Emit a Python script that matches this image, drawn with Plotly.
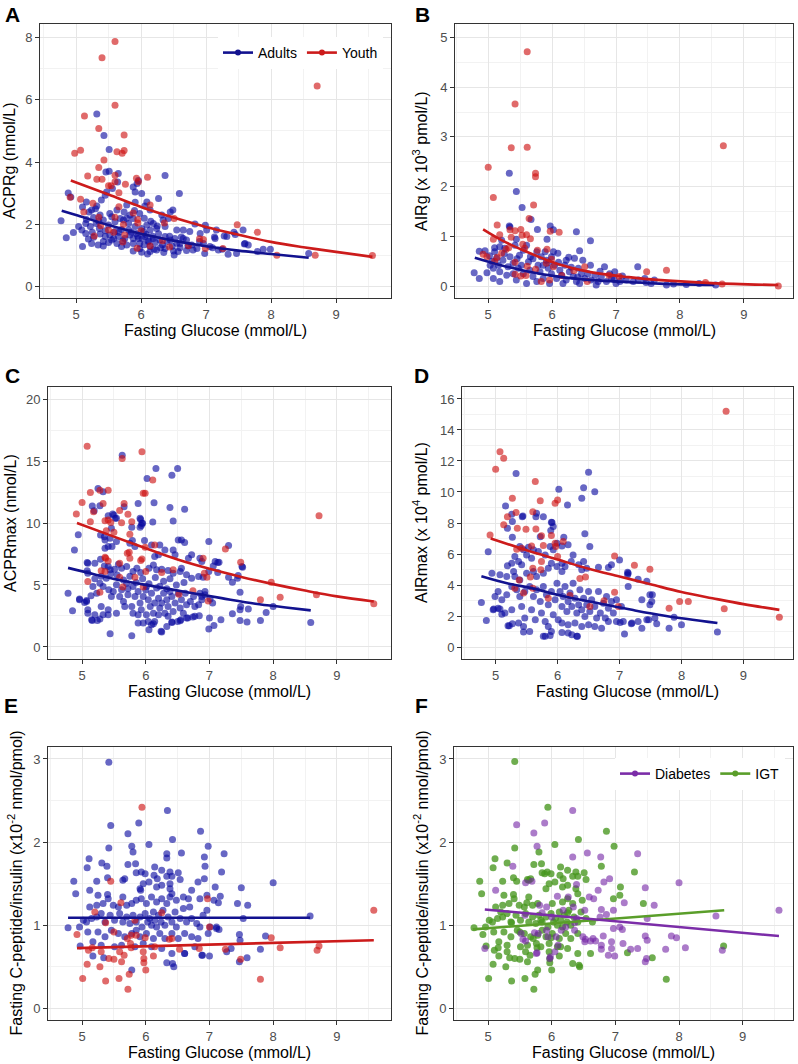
import plotly.graph_objects as go

FONT = "Liberation Sans, Arial, sans-serif"
W, H = 798, 1064

# ---- panel A: ACPRg ----
a_adults = [(5.43,4.85),(5.51,4.40),(5.32,5.54),(6.37,3.57),(6.59,2.99),(4.88,3.01),(4.77,2.12),(4.85,1.57),(4.96,1.74),(5.10,1.29),(4.92,2.88),
    (5.10,2.56),(5.16,2.72),(5.24,2.46),(5.32,2.59),(5.39,2.78),(5.45,2.94),(5.47,3.04),(5.56,3.15),(5.64,3.36),(5.46,3.68),(5.51,3.71),(5.65,3.63),
    (5.88,3.20),(5.91,3.04),(6.01,2.99),(5.96,3.41),(5.94,3.31),(6.09,2.72),(6.27,2.83),(6.06,2.59),(5.91,2.71),(5.78,2.62),(5.74,2.40),(5.63,2.46),
    (5.52,2.35),(5.37,2.30),(5.27,2.22),(5.16,2.16),(5.04,1.93),(5.09,1.82),(5.15,2.03),(5.22,1.93),(5.31,2.03),(5.36,1.87),(5.42,2.14),(5.50,1.98),
    (5.60,2.09),(5.68,2.19),(5.83,2.30),(5.88,2.19),(5.98,2.35),(6.14,2.46),(6.32,2.30),(6.45,2.40),(6.49,2.46),(6.42,2.19),(6.34,2.14),(6.19,2.03),
    (6.09,1.98),(6.01,1.87),(5.91,1.93),(5.81,1.82),(5.70,1.84),(5.60,1.77),(5.52,1.66),(5.45,1.61),(5.37,1.69),(5.27,1.59),(5.19,1.53),(5.15,1.71),
    (5.24,1.39),(5.34,1.34),(5.42,1.45),(5.55,1.50),(5.65,1.61),(5.75,1.55),(5.83,1.66),(5.93,1.71),(6.04,1.77),(6.14,1.82),(6.24,1.87),(6.37,1.93),
    (6.55,1.82),(6.65,1.82),(6.83,2.01),(6.75,1.77),(6.91,1.71),(7.01,1.82),(7.16,1.82),(7.32,1.61),(7.45,1.68),(7.57,1.82),(7.60,1.39),(7.65,1.34),
    (5.88,1.39),(5.98,1.39),(6.11,1.45),(6.19,1.55),(6.29,1.50),(6.37,1.61),(6.45,1.50),(6.52,1.55),(6.60,1.39),(6.70,1.50),(6.78,1.34),(6.86,1.23),
    (6.96,1.39),(7.06,1.29),(7.14,1.55),(7.19,1.18),(7.34,1.04),(7.47,1.07),(5.88,1.15),(6.01,1.11),(6.14,1.13),(6.24,1.18),(6.37,1.23),(6.51,1.02),
    (6.57,1.13),(6.70,1.16),(6.98,1.07),(6.14,1.29),(5.78,1.34),(5.70,1.29),(5.63,1.39),(5.42,1.31),(6.06,1.61),(5.96,1.55),(5.81,2.03),(5.73,2.14),
    (7.59,1.37),(7.79,1.13),(7.88,1.20),(7.99,1.20),(8.58,1.07),(6.99,1.97),(7.13,1.60),(7.28,1.63),(7.43,1.75),
    (5.85,1.75),(5.95,1.62),(6.02,1.55),(6.08,1.68),(6.12,1.48),(6.18,1.62),(6.22,1.42),(6.27,1.70),(6.33,1.35),(6.40,1.45),(6.44,1.62),(6.48,1.30),
    (6.55,1.40),(6.60,1.25),(6.65,1.55),(6.72,1.32),(6.80,1.18),(5.72,1.48),(5.66,1.75),(5.58,1.55),(5.50,1.42),(5.45,1.80),(5.35,2.10),(5.25,1.75),
    (5.20,2.40),(5.30,2.50),(5.55,2.25),(5.78,2.20),(5.90,2.45),(6.05,2.20),(6.15,2.10),(6.25,1.95),(6.30,1.25),(6.20,1.20),(6.10,1.05),(5.98,1.22),
    (6.50,1.15),(6.62,1.60),(6.90,1.45),(7.10,1.25),(7.25,1.20),(6.35,1.10),(6.05,1.35),(5.88,1.55)]
a_youth = [(4.98,4.28),(5.07,4.38),(5.13,5.48),(5.40,7.35),(5.60,7.87),(5.60,5.82),(5.35,5.08),(5.74,4.87),(5.63,4.33),(5.71,4.28),(5.74,4.37),
    (5.43,4.07),(5.35,3.83),(5.18,3.55),(5.32,3.45),(5.40,3.45),(5.60,3.58),(5.60,3.37),(5.50,3.24),(5.54,3.24),(5.76,3.29),(5.66,3.02),(5.93,3.48),
    (5.96,3.37),(6.10,3.51),(4.91,2.87),(5.07,2.81),(5.12,2.40),(5.26,2.68),(5.35,2.23),(5.38,1.96),(5.50,1.82),(5.58,1.75),(5.60,2.23),(5.66,2.57),
    (5.73,2.00),(5.75,1.66),(5.88,2.37),(5.95,2.16),(5.95,2.05),(6.00,1.80),(6.14,1.31),(5.94,1.24),(5.72,1.44),(5.28,1.63),(6.33,1.48),(6.44,1.28),
    (6.51,2.19),(6.73,1.32),(6.90,1.54),(6.96,1.52),(6.99,1.23),(7.26,1.23),(7.48,1.99),(7.79,1.75),(8.09,1.01),(8.68,1.01),(8.71,6.44),(9.56,1.00),
    (6.14,2.62),(6.36,2.05)]
a_fit_adults = [(4.78,2.44),(5.0,2.30),(5.5,1.98),(6.0,1.70),(6.5,1.48),(7.0,1.30),(7.5,1.16),(8.0,1.05),(8.58,0.93)]
a_fit_youth = [(4.92,3.41),(5.5,2.96),(6.0,2.56),(6.5,2.22),(7.0,1.92),(7.5,1.67),(8.0,1.44),(8.5,1.27),(9.0,1.12),(9.56,0.96)]

# ---- panel B: AIRg ----
b_adults = [(5.33,2.27),(5.44,1.90),(5.53,1.58),(5.67,1.34),(5.77,1.14),(5.97,1.21),(6.02,1.13),(6.38,1.09),(6.60,0.91),(5.92,0.94),(6.43,0.71),
    (5.34,1.19),(6.82,0.39),(7.34,0.39),(4.78,0.27),(4.86,0.15),(4.98,0.27),(4.95,0.71),(5.10,0.77),(5.10,0.69),(5.18,0.79),(5.44,0.94),(5.21,0.92),
    (6.97,0.13),(7.00,0.05),(7.47,0.07),(7.79,0.02),(8.56,0.02),(5.33,1.21),(4.86,0.70),(5.26,0.76),(5.42,0.82),(5.60,0.82),(5.76,0.69),(5.89,0.69),
    (6.02,0.69),(6.09,0.66),(6.22,0.52),(6.35,0.56),(6.48,0.52),(6.26,0.58),(5.08,0.36),(5.08,0.15),(5.16,0.42),(5.18,0.29),(5.23,0.52),(5.31,0.39),
    (5.39,0.46),(5.39,0.25),(5.47,0.36),(5.52,0.42),(5.55,0.25),(5.63,0.49),(5.65,0.32),(5.70,0.19),(5.78,0.42),(5.81,0.29),(5.86,0.15),(5.91,0.52),
    (5.94,0.36),(5.99,0.25),(6.04,0.42),(6.07,0.15),(6.12,0.32),(6.15,0.22),(6.20,0.42),(6.22,0.12),(6.27,0.29),(6.33,0.19),(6.38,0.09),(6.41,0.36),
    (6.46,0.25),(6.51,0.15),(6.56,0.25),(6.61,0.12),(6.67,0.22),(6.72,0.09),(6.77,0.19),(6.85,0.09),(6.93,0.15),(6.98,0.29),(7.06,0.09),(7.16,0.12),
    (7.27,0.09),(7.45,0.15),(7.55,0.05),(7.60,0.12),(5.13,0.56),(5.34,0.59),(5.49,0.62),(5.66,0.59),(5.83,0.59),(5.99,0.59),(5.86,0.42),(5.60,0.05),
    (5.76,0.09),(5.96,0.05),(6.17,0.05),(6.43,0.05),(6.69,0.02),(5.18,0.09),(5.44,0.12),(5.03,0.42),(5.29,0.22),(7.90,0.04),(8.10,0.03),(8.30,0.05),
    (5.02,0.61),(5.06,0.50),(5.70,0.55),(5.55,0.72),(6.10,0.48),(6.30,0.38),(5.95,0.48),(6.60,0.42),(6.75,0.30),(5.45,0.55),(5.25,0.65),(6.90,0.25),
    (7.10,0.20),(7.35,0.12),(6.40,0.18)]
b_youth = [(5.61,4.71),(5.42,3.66),(5.36,2.78),(5.61,2.79),(5.00,2.39),(5.08,1.78),(5.74,2.27),(5.74,2.20),(5.71,1.63),(5.14,1.23),(5.51,1.14),
    (5.64,1.36),(5.42,1.11),(5.36,0.98),(5.53,1.02),(5.60,1.03),(5.66,0.95),(5.97,1.10),(6.11,1.08),(5.08,0.94),(5.18,1.03),(4.92,0.64),(5.28,0.74),
    (5.32,0.77),(5.77,0.72),(5.92,0.74),(5.99,0.54),(5.57,0.76),(5.74,0.34),(5.42,0.48),(6.02,0.39),(5.42,0.24),(5.51,0.20),(5.59,0.21),(5.83,0.09),
    (5.96,0.12),(6.51,0.39),(6.34,0.31),(6.15,0.21),(6.55,0.09),(6.89,0.22),(7.05,0.19),(7.48,0.29),(7.79,0.32),(8.40,0.07),(8.68,2.82),(8.66,0.04),
    (9.54,0.00),(5.10,0.50),(4.98,0.59),(5.21,0.66),(5.91,0.46),(5.34,1.13),(5.54,0.84),(5.14,0.58),(5.61,0.40)]
b_fit_adults = [(4.79,0.57),(5.2,0.42),(5.6,0.30),(6.1,0.19),(6.64,0.12),(7.2,0.08),(7.68,0.05),(8.54,0.02)]
b_fit_youth = [(4.92,1.14),(5.2,0.93),(5.6,0.69),(6.1,0.44),(6.6,0.28),(7.2,0.18),(7.7,0.12),(8.5,0.06),(9.54,0.02)]

# ---- panel C: ACPRmax ----
c_adults = [(5.63,15.47),(6.16,14.40),(6.50,14.40),(6.02,13.59),(6.41,13.86),(6.13,11.64),(5.88,11.58),(6.38,11.26),(6.61,11.10),(5.25,12.79),
    (5.33,12.52),(5.16,11.37),(5.66,11.31),(5.19,10.99),(5.48,10.72),(5.41,10.59),(5.52,10.38),(5.91,10.38),(5.94,9.97),(6.11,10.08),(6.43,10.16),
    (4.94,9.06),(4.88,7.83),(4.78,4.34),(4.85,2.92),(4.96,3.86),(5.08,6.81),(5.09,5.95),(5.07,3.67),(5.09,3.00),(5.16,2.14),(5.24,2.14),(5.28,2.25),
    (5.44,1.07),(5.78,0.91),(5.88,1.93),(6.05,1.39),(6.12,1.88),(6.25,1.21),(6.33,1.66),(6.41,2.01),(6.55,2.20),(6.66,2.33),(6.74,2.41),(6.84,2.52),
    (6.99,1.45),(7.07,1.74),(7.18,2.20),(7.00,2.33),(6.99,8.50),(7.30,8.18),(7.15,6.84),(7.36,5.23),(7.44,5.55),(7.52,6.43),(7.36,2.68),(7.48,4.42),
    (7.49,3.27),(7.48,3.00),(7.61,3.06),(7.48,2.14),(7.59,2.01),(7.80,2.14),(7.89,2.79),(8.00,3.27),(8.59,1.98),(7.05,3.54),(6.85,4.34),(6.88,4.08),
    (6.93,4.48),(5.28,11.39),(5.50,10.64),(5.54,10.38),(5.46,9.57),(5.92,10.29),(5.95,9.97),(5.29,9.03),(5.35,8.90),(5.36,8.63),(5.44,8.77),
    (5.36,7.96),(5.41,8.10),(5.47,8.10),(5.54,8.50),(5.78,9.65),(5.91,9.65),(5.93,9.80),(5.98,8.58),(5.79,8.58),(5.75,8.36),(5.83,8.10),(6.09,8.23),
    (6.22,8.23),(6.51,8.63),(6.56,8.63),(6.61,8.42),(6.72,7.43),(6.30,7.83),(6.14,7.29),(6.20,7.43),(6.43,7.83),(6.46,7.43),(6.67,7.16),(6.85,7.16),
    (6.88,6.89),(7.06,6.54),(7.09,6.89),(7.13,6.81),(6.99,6.09),(7.13,6.01),(7.30,5.63),(7.45,5.76),(7.51,6.49),(5.09,6.76),(5.08,6.14),(5.20,6.76),
    (5.29,7.08),(5.35,6.54),(5.41,6.49),(5.44,6.22),(5.51,6.27),(5.57,6.68),(5.62,6.35),(5.70,6.49),(5.80,6.09),(5.86,6.35),(5.92,6.01),(6.05,6.35),
    (6.12,6.62),(6.17,6.22),(6.25,6.27),(6.35,6.17),(6.43,5.95),(6.54,6.09),(6.56,6.35),(6.64,5.82),(6.72,5.55),(6.83,5.68),(6.90,5.63),
    (4.96,3.81),(5.04,3.59),(5.07,3.75),(5.14,4.13),(5.17,4.88),(5.23,4.34),(5.28,5.15),(5.33,4.88),(5.38,5.55),(5.42,4.61),(5.46,4.08),(5.49,4.48),
    (5.54,5.01),(5.59,4.08),(5.62,4.61),(5.65,3.67),(5.70,5.15),(5.72,4.21),(5.78,3.27),(5.80,4.88),(5.83,4.08),(5.88,4.48),(5.91,3.54),(5.93,3.00),
    (5.96,4.08),(6.01,4.88),(6.04,3.81),(6.07,3.27),(6.09,4.34),(6.12,2.73),(6.14,3.54),(6.17,4.75),(6.20,3.94),(6.22,3.14),(6.25,3.54),(6.28,4.34),
    (6.30,2.73),(6.33,3.81),(6.35,3.27),(6.38,4.48),(6.41,4.08),(6.43,2.87),(6.46,3.54),(6.51,4.34),(6.54,3.14),(6.56,3.81),(6.62,4.34),(6.64,3.40),
    (6.70,3.67),(6.75,4.08),(6.77,3.27),(6.83,3.40),(6.88,3.81),(6.93,4.21),(7.01,3.86),(6.77,2.47),(6.04,2.06),(5.80,2.73),(5.67,3.27),(5.54,2.73),
    (5.41,2.60),(5.41,3.00),(5.30,3.27),(5.20,2.60),(5.09,2.73),(5.15,2.20),(5.33,2.60),(5.88,2.60),(6.01,2.60),(6.20,2.60),(6.35,2.47),(6.50,2.06),
    (6.59,2.73),(6.14,2.06),(6.09,1.80),(5.96,1.93),(6.24,1.26),(6.41,1.98),(6.54,2.12),(6.64,2.33),
    (5.55,5.80),(5.65,5.40),(5.75,5.70),(5.85,5.20),(5.95,5.50),(6.05,5.10),(6.15,5.60),(6.28,5.30),(6.38,5.50),(6.48,5.00),(6.60,5.20),(5.45,5.90),
    (5.30,5.70),(5.20,5.50),(6.00,4.60),(6.22,4.90),(6.33,4.70),(5.72,4.70)]
c_youth = [(5.08,16.19),(5.63,15.20),(5.94,15.74),(6.11,13.46),(5.96,12.39),(5.99,12.39),(5.41,12.65),(5.13,12.47),(5.28,12.65),(4.91,10.72),
    (5.00,11.66),(5.18,10.91),(5.33,11.58),(5.66,11.58),(5.59,11.00),(5.72,10.70),(5.13,10.10),(5.36,10.19),(5.41,10.24),(5.45,10.05),(5.62,10.03),
    (5.78,10.10),(5.75,9.09),(5.50,9.25),(5.38,9.38),(5.41,6.94),(5.37,7.16),(5.74,7.64),(5.71,7.56),(5.75,7.16),(5.59,6.76),(5.99,8.04),(6.14,8.23),
    (5.94,7.10),(5.59,5.63),(5.83,5.63),(6.00,6.09),(6.25,6.00),(6.43,6.22),(5.09,5.28),(5.28,4.42),(5.96,4.83),(6.52,4.26),(6.74,4.53),(6.90,7.16),
    (6.92,5.95),(6.96,5.63),(6.98,3.70),(7.25,7.91),(7.49,6.84),(7.80,3.81),(7.97,5.23),(8.11,4.02),(8.68,4.21),(8.72,10.59),(9.58,3.49),(5.92,6.97),
    (5.36,7.24),(5.36,6.09),(5.30,6.14),(5.64,4.83)]
c_fit_adults = [(4.78,6.38),(5.2,5.85),(5.62,5.36),(6.14,4.88),(6.67,4.40),(7.19,3.94),(7.72,3.49),(8.2,3.19),(8.59,2.95)]
c_fit_youth = [(4.92,10.0),(5.5,8.9),(6.0,7.96),(6.5,7.05),(7.0,6.3),(7.5,5.65),(8.0,5.07),(8.5,4.55),(9.0,4.08),(9.58,3.67)]

# ---- panel D: AIRmax ----
d_adults = [(6.50,11.27),(5.33,11.20),(6.60,10.02),(6.42,10.28),(6.02,10.17),(6.39,9.59),(6.16,9.16),(5.16,9.10),(5.27,8.09),(5.66,8.63),
    (5.65,8.41),(5.77,8.41),(5.91,8.03),(5.93,7.77),(5.44,8.45),(5.19,7.66),(4.88,6.14),(4.94,4.76),(4.77,2.88),(4.85,1.72),(4.97,2.45),(5.07,2.45),
    (5.10,2.12),(5.22,1.37),(5.27,1.50),(5.45,0.97),(5.77,0.69),(5.88,0.75),(6.17,0.90),(6.32,0.69),(6.44,7.30),(6.52,6.48),(6.07,5.41),(6.82,5.13),
    (7.00,5.62),(7.13,4.66),(7.13,4.83),(7.30,4.38),(7.44,4.25),(7.36,3.05),(7.53,3.37),(7.49,2.73),(7.47,1.76),(7.57,1.87),(7.60,1.50),(7.80,1.22),
    (7.88,1.93),(8.00,1.44),(8.58,0.97),(7.36,1.22),(7.19,1.50),(7.08,0.84),(7.01,1.59),(5.26,8.56),(5.43,8.41),(5.90,8.05),(5.89,7.51),(5.72,7.12),
    (5.27,7.08),(6.10,7.08),(6.17,6.59),(6.07,6.52),(5.99,6.70),(5.93,6.27),(5.88,6.48),(5.80,5.94),(5.69,6.16),(5.61,6.27),(5.53,6.44),(5.45,6.27),
    (5.39,6.48),(5.50,5.94),(5.58,5.73),(5.31,5.84),(5.37,5.52),(5.42,5.30),(5.26,5.41),(5.29,4.87),(5.19,5.24),(5.07,4.66),(5.18,4.55),(5.31,4.55),
    (5.39,4.33),(5.50,4.76),(5.61,4.87),(5.66,4.55),(5.77,4.76),(5.85,5.09),(5.90,5.41),(5.99,5.19),(6.07,4.87),(6.12,5.19),(6.22,5.52),(6.25,5.94),
    (6.34,5.30),(6.39,4.98),(6.42,5.52),(6.47,5.09),(6.66,5.15),(6.87,5.30),(7.14,4.76),(7.49,3.37),(7.52,2.94),
    (5.04,3.58),(4.99,3.26),(5.10,3.05),(5.18,3.37),(5.26,3.91),(5.34,3.69),(5.39,3.26),(5.47,3.58),(5.55,3.91),(5.61,3.26),(5.66,3.69),(5.72,2.94),
    (5.77,3.91),(5.82,3.37),(5.85,2.73),(5.90,3.58),(5.96,3.05),(5.99,4.12),(6.04,3.58),(6.07,2.62),(6.09,3.26),(6.12,3.91),(6.15,2.30),(6.17,2.94),
    (6.20,3.48),(6.23,2.62),(6.25,4.12),(6.28,3.15),(6.31,2.19),(6.34,2.73),(6.36,3.69),(6.39,2.40),(6.42,3.15),(6.44,1.97),(6.47,2.73),(6.50,3.58),
    (6.52,2.30),(6.55,3.05),(6.60,2.62),(6.63,1.87),(6.66,3.58),(6.69,2.19),(6.74,2.83),(6.77,1.87),(6.79,3.26),(6.82,2.51),(6.87,2.94),(6.90,2.19),
    (6.95,3.05),(7.03,2.62),(7.06,1.65),(7.14,3.91),(7.20,1.55),(7.30,1.65),(7.44,1.76),(5.26,2.40),(5.15,2.19),(5.04,2.51),(4.96,2.40),(5.42,2.62),
    (5.58,2.40),(5.74,2.19),(5.93,2.08),(6.01,1.76),(5.80,1.65),(5.64,1.76),(5.47,1.87),(5.37,1.55),(5.20,1.37),(5.45,1.33),(5.85,1.33),(6.07,1.55),
    (6.17,1.44),(6.28,1.55),(6.39,1.33),(6.50,1.44),(6.60,1.33),(6.71,1.22),(6.82,1.65),(6.95,1.65),(5.55,1.01),(6.07,0.94),(5.80,0.69),(6.23,0.79),
    (6.31,0.69),(5.90,1.01)]
d_youth = [(8.72,15.21),(5.07,12.60),(5.13,12.17),(5.00,11.46),(5.64,10.67),(5.27,9.59),(5.33,8.67),(5.60,8.73),(5.72,9.44),(5.96,9.27),
    (6.00,9.49),(5.13,7.88),(5.19,8.41),(5.35,7.66),(5.49,7.60),(5.65,7.62),(5.74,7.17),(5.90,7.19),(6.09,6.80),(5.96,6.70),(4.91,7.23),(5.34,6.31),
    (5.42,6.37),(5.58,6.52),(5.77,6.55),(6.00,5.84),(5.74,5.52),(5.73,4.98),(5.60,5.09),(5.56,4.51),(5.38,4.33),(5.31,3.80),(5.45,3.48),(5.60,3.80),
    (5.85,3.15),(6.20,3.33),(6.36,4.42),(6.45,4.51),(6.92,5.88),(7.24,5.28),(7.49,5.02),(6.92,3.54),(6.75,2.98),(6.98,2.62),(6.52,2.62),(7.80,2.51),
    (7.97,2.94),(8.11,2.94),(8.69,2.47),(9.58,1.93),(5.97,6.48)]
d_fit_adults = [(4.77,4.57),(5.2,4.10),(5.58,3.80),(6.12,3.26),(6.66,2.83),(7.2,2.40),(7.73,2.02),(8.58,1.55)]
d_fit_youth = [(4.92,7.0),(5.5,6.25),(6.0,5.65),(6.5,5.05),(7.0,4.55),(7.5,4.05),(8.0,3.55),(8.5,3.15),(9.0,2.77),(9.58,2.40)]

# ---- panel E: C-peptide/insulin by age group ----
e_adults = [(5.42,2.96),(5.45,2.20),(5.89,2.23),(6.34,2.38),(5.72,2.10),(6.86,2.13),(6.42,2.03),(6.05,1.97),(5.78,1.95),(5.42,1.93),(6.98,1.95),
    (7.23,1.86),(6.56,1.87),(6.33,1.86),(6.33,1.81),(5.80,1.88),(6.92,1.82),(5.11,1.80),(5.08,1.69),(5.31,1.75),(5.39,1.71),(5.72,1.73),(5.84,1.74),
    (6.93,1.71),(7.19,1.64),(8.00,1.51),(4.87,1.53),(4.90,1.38),(5.12,1.42),(5.23,1.53),(5.40,1.57),(7.50,1.45),(7.44,1.26),(7.60,1.24),(7.53,1.08),
    (8.58,1.11),(4.78,0.97),(4.97,0.75),(7.47,0.89),(7.48,0.82),(7.88,0.87),(7.80,0.71),(7.34,0.72),(7.47,0.56),(7.59,0.61),(7.00,0.63),(6.89,0.64),
    (5.78,0.46),(6.42,0.54),(6.44,0.50),(6.33,0.55),(6.61,0.66),(5.17,0.63),(5.34,0.61),(7.17,1.35),(7.07,1.30),(7.15,0.95),(7.11,0.98),(7.27,0.68),
    (5.85,1.63),(5.93,1.64),(5.99,1.62),(6.14,1.70),(6.25,1.66),(6.13,1.60),(6.18,1.56),(6.33,1.59),(6.38,1.64),(6.41,1.59),(6.51,1.63),(6.54,1.55),
    (6.38,1.50),(6.38,1.44),(6.41,1.38),(6.25,1.48),(6.17,1.46),(6.05,1.52),(5.96,1.50),(5.91,1.44),(5.92,1.42),(5.64,1.54),(5.67,1.56),(5.25,1.36),
    (5.40,1.37),(5.12,1.22),(5.23,1.24),(5.33,1.26),(5.41,1.32),(5.49,1.24),(5.57,1.22),(5.64,1.34),(5.70,1.24),(5.78,1.26),(5.85,1.30),(5.93,1.32),
    (6.01,1.26),(6.09,1.34),(6.17,1.28),(6.25,1.32),(6.33,1.26),(6.38,1.34),(6.48,1.30),(6.59,1.34),(6.67,1.32),(6.72,1.42),(6.85,1.32),(6.96,1.36),
    (6.92,1.56),(6.82,1.52),(7.09,1.46),(7.14,1.27),(5.02,1.06),(4.96,0.98),(5.07,1.04),(5.15,1.08),(5.23,1.10),(5.30,1.14),(5.36,1.04),(5.44,1.12),
    (5.51,1.06),(5.59,1.14),(5.64,1.04),(5.70,1.10),(5.75,1.02),(5.80,1.12),(5.85,1.04),(5.91,1.10),(5.94,0.98),(5.99,1.14),(6.03,1.04),(6.06,1.08),
    (6.09,1.00),(6.12,1.16),(6.14,1.06),(6.17,0.98),(6.20,1.12),(6.24,1.04),(6.27,1.18),(6.30,1.00),(6.35,1.10),(6.41,1.04),(6.46,1.16),(6.48,0.98),
    (6.54,1.08),(6.59,1.20),(6.64,1.04),(6.69,1.22),(6.72,1.08),(6.80,1.02),(6.85,0.98),(6.90,1.12),(6.96,1.18),(7.01,0.98),(7.11,0.96),
    (5.09,0.92),(5.25,0.92),(5.36,0.86),(5.46,0.94),(5.57,0.90),(5.67,0.86),(5.78,0.90),(5.85,0.94),(5.91,0.86),(6.01,0.90),(6.12,0.84),(6.22,0.90),
    (6.30,0.84),(6.41,0.90),(6.51,0.84),(6.61,0.90),(6.72,0.86),(6.82,0.84),(6.98,0.90),(5.17,0.80),(5.30,0.76),(5.51,0.74),(5.62,0.76),(5.83,0.74),
    (5.96,0.78),(6.09,0.74),(6.25,0.72),(6.41,0.66),(6.61,0.66),(6.77,0.74),(6.88,0.64)]
e_youth = [(5.94,2.42),(5.45,1.53),(5.61,1.27),(6.97,1.32),(7.00,0.98),(9.58,1.18),(4.92,0.89),(5.20,1.16),(5.37,1.03),(5.83,1.06),(6.25,1.15),
    (6.41,0.84),(6.37,0.83),(6.84,0.72),(6.53,0.71),(7.25,0.71),(7.49,0.59),(7.97,0.85),(8.11,0.73),(8.69,0.70),(8.72,0.75),(7.80,0.35),(5.01,0.36),
    (5.08,0.53),(5.28,0.50),(5.37,0.33),(5.58,0.36),(5.72,0.23),(5.74,0.41),(5.62,0.56),(5.97,0.55),(6.00,0.46),(5.97,0.60),(6.12,0.63),(5.96,0.68),
    (5.77,0.73),(5.76,0.78),(5.66,0.64),(5.50,0.59),(5.42,0.60),(5.30,0.68),(5.16,0.73),(5.10,0.70),(5.50,0.92),(5.77,0.88),(5.85,0.88),(5.99,0.85),
    (6.14,0.74),(5.59,0.68),(5.71,0.84)]
e_fit_adults = [(4.78,1.09),(8.58,1.09)]
e_fit_youth = [(4.92,0.725),(9.58,0.82)]

# ---- panel F: C-peptide/insulin by glucose tolerance ----
f_diabetes = [(6.33,2.38),(5.45,2.21),(5.89,2.23),(5.72,2.11),(5.77,1.95),(5.39,1.71),(6.33,1.82),(6.56,1.87),(6.77,1.82),(7.35,1.86),(8.00,1.51),
    (6.91,1.56),(6.82,1.52),(5.59,1.51),(5.69,1.53),(5.12,1.42),(7.47,1.45),(7.61,1.24),(7.14,1.27),(6.59,1.34),(6.66,1.32),(6.78,1.19),(6.86,1.13),
    (7.50,1.08),(8.58,1.11),(9.57,1.18),(4.95,0.72),(6.97,0.96),(7.11,0.95),(7.12,0.78),(7.24,0.71),(7.35,0.72),(7.47,0.87),(7.50,0.82),(7.47,0.56),
    (7.49,0.60),(7.79,0.71),(7.88,0.87),(7.96,0.85),(8.10,0.73),(8.68,0.70),(6.89,0.64),(6.99,0.63),(6.78,0.76),(6.69,0.81),(6.61,0.81),(6.53,0.83),
    (5.77,0.67),(5.55,0.83),(5.59,0.81),(5.98,0.62),(6.05,0.68),(6.36,1.03),(6.22,0.98),(6.00,1.10),(5.85,1.15),(5.73,0.91),(6.39,1.49),(6.26,1.34),
    (6.09,1.35),(6.73,1.42),(6.97,1.18),(6.34,1.22),(6.52,1.18),(6.18,1.18),(6.39,1.08),(6.76,1.10),(7.07,0.98),(6.81,0.87),(6.65,0.84),(6.52,0.80),
    (6.94,0.80),(6.94,0.72),(6.78,0.71),(6.10,0.76),(6.07,0.86),(5.94,0.86),(5.76,0.66),(5.97,0.60),(5.52,0.90),(5.92,1.22),(5.81,1.24),(5.58,1.12),
    (6.49,0.86),(6.36,0.94),(6.15,0.94),(5.92,0.94),(5.79,0.90)]
f_igt = [(5.42,2.97),(5.94,2.42),(6.42,2.03),(6.86,2.13),(6.98,1.95),(6.05,1.97),(5.42,1.93),(5.30,1.75),(5.08,1.69),(5.11,1.80),(4.87,1.53),
    (4.90,1.38),(5.23,1.53),(5.40,1.57),(5.45,1.53),(5.62,1.55),(5.72,1.73),(5.84,1.74),(5.80,1.88),(5.89,1.62),(5.85,1.63),(5.93,1.64),(5.99,1.62),
    (6.14,1.70),(6.25,1.66),(6.13,1.60),(6.18,1.56),(6.33,1.59),(6.38,1.64),(6.41,1.59),(6.51,1.63),(6.54,1.55),(6.38,1.44),(6.41,1.38),(6.25,1.48),
    (6.17,1.46),(6.05,1.52),(5.96,1.50),(5.91,1.44),(5.64,1.54),(5.67,1.56),(5.25,1.36),(5.40,1.37),(5.12,1.22),(5.23,1.24),(5.33,1.26),(5.41,1.32),
    (5.49,1.24),(5.57,1.22),(5.64,1.34),(5.70,1.24),(5.78,1.26),(6.01,1.26),(6.17,1.28),(6.25,1.32),(6.33,1.26),(6.48,1.30),(6.97,1.32),(7.08,1.46),
    (7.30,1.64),(7.44,1.26),(6.78,1.71),(7.07,1.36),(5.61,1.27),(5.02,1.06),(4.96,0.98),(5.07,1.04),(5.15,1.08),(5.23,1.10),(5.30,1.14),(5.36,1.04),
    (5.44,1.12),(5.51,1.06),(5.59,1.14),(5.64,1.04),(5.70,1.10),(5.75,1.02),(5.80,1.12),(5.85,1.04),(5.91,1.10),(5.94,0.98),(5.99,1.14),(6.03,1.04),
    (6.06,1.08),(6.09,1.00),(6.12,1.16),(6.14,1.06),(6.17,0.98),(6.20,1.12),(6.24,1.04),(6.27,1.18),(6.30,1.00),(6.35,1.10),(6.41,1.04),(6.46,1.16),
    (6.54,1.08),(6.64,1.04),(4.78,0.97),(4.92,0.89),(5.20,1.16),(5.37,1.03),(5.83,1.06),(6.25,1.15),(5.09,0.92),(5.25,0.92),(5.36,0.86),(5.46,0.94),
    (5.57,0.90),(5.67,0.86),(5.78,0.88),(5.85,0.94),(5.91,0.86),(6.01,0.90),(6.12,0.84),(6.22,0.90),(6.30,0.84),(6.41,0.90),(5.50,0.92),(5.99,0.85),
    (4.97,0.75),(5.17,0.80),(5.30,0.76),(5.51,0.74),(5.62,0.76),(5.83,0.74),(5.96,0.78),(6.09,0.74),(6.25,0.72),(6.41,0.66),(6.61,0.66),(5.16,0.73),
    (5.10,0.70),(5.30,0.68),(5.42,0.60),(5.50,0.59),(5.66,0.64),(5.76,0.78),(5.77,0.73),(5.96,0.68),(6.12,0.63),(6.14,0.74),(5.17,0.63),(5.34,0.61),
    (5.59,0.68),(5.71,0.84),(5.01,0.36),(5.08,0.53),(5.28,0.50),(5.37,0.33),(5.58,0.36),(5.72,0.23),(5.74,0.41),(5.62,0.56),(5.97,0.55),(6.00,0.46),
    (5.97,0.60),(5.78,0.46),(6.33,0.54),(6.43,0.52),(6.44,0.50),(7.58,0.61),(7.80,0.35),(8.70,0.75),(7.19,0.67)]
f_fit_diabetes = [(4.95,1.19),(9.57,0.87)]
f_fit_igt = [(4.76,0.95),(8.71,1.18)]

X_TITLE = "Fasting Glucose (mmol/L)"
CPI_TITLE = "Fasting C-peptide/insulin (x10<sup>-2</sup> nmol/pmol)"

# colours
ADULT_PT, ADULT_LN = "rgba(10,10,160,0.62)", "#12128F"
YOUTH_PT, YOUTH_LN = "rgba(205,15,15,0.62)", "#CC1B1B"
DIAB_PT, DIAB_LN = "rgba(115,35,165,0.6)", "#7B2DA8"
IGT_PT, IGT_LN = "rgba(70,150,30,0.78)", "#5A9E2A"

# panel boxes in pixels: left, right, top, bottom; letter position (x, y centre)
panels = [
    dict(key="A", box=(40, 391, 24, 298), letter=(3, 14), xr=[4.446, 9.846], yr=[-0.36, 8.43], ydt=2,
         ytitle="ACPRg (nmol/L)", ytx=10,
         groups=[(a_adults, a_fit_adults, ADULT_PT, ADULT_LN), (a_youth, a_fit_youth, YOUTH_PT, YOUTH_LN)]),
    dict(key="B", box=(455, 793, 24, 298), letter=(413, 14), xr=[4.48, 9.77], yr=[-0.24, 5.27], ydt=1,
         ytitle="AIRg (x 10<sup>3</sup> pmol/L)", ytx=420,
         groups=[(b_adults, b_fit_adults, ADULT_PT, ADULT_LN), (b_youth, b_fit_youth, YOUTH_PT, YOUTH_LN)]),
    dict(key="C", box=(48, 391, 387, 659), letter=(3, 376), xr=[4.465, 9.85], yr=[-0.97, 20.97], ydt=5,
         ytitle="ACPRmax (nmol/L)", ytx=10,
         groups=[(c_adults, c_fit_adults, ADULT_PT, ADULT_LN), (c_youth, c_fit_youth, YOUTH_PT, YOUTH_LN)]),
    dict(key="D", box=(462, 793, 387, 659), letter=(412, 376), xr=[4.457, 9.80], yr=[-0.77, 16.77], ydt=2,
         ytitle="AIRmax (x 10<sup>4</sup> pmol/L)", ytx=420,
         groups=[(d_adults, d_fit_adults, ADULT_PT, ADULT_LN), (d_youth, d_fit_youth, YOUTH_PT, YOUTH_LN)]),
    dict(key="E", box=(48, 391, 747, 1020), letter=(2, 705), xr=[4.465, 9.85], yr=[-0.14, 3.144], ydt=1,
         ytitle=CPI_TITLE, ytx=15,
         groups=[(e_adults, e_fit_adults, ADULT_PT, ADULT_LN), (e_youth, e_fit_youth, YOUTH_PT, YOUTH_LN)]),
    dict(key="F", box=(454, 793, 747, 1020), letter=(413, 705), xr=[4.466, 9.79], yr=[-0.14, 3.144], ydt=1,
         ytitle=CPI_TITLE, ytx=421,
         groups=[(f_igt, f_fit_igt, IGT_PT, IGT_LN), (f_diabetes, f_fit_diabetes, DIAB_PT, DIAB_LN)]),
]

fig = go.Figure()
annotations = []
layout = {}

for i, p in enumerate(panels):
    n = "" if i == 0 else str(i + 1)
    l, r, t, b = p["box"]
    xa, ya = "x" + n, "y" + n
    axis_common = dict(showline=True, mirror=True, linecolor="#333333", linewidth=1,
                       ticks="outside", ticklen=4, tickcolor="#333333", automargin=False,
                       tickfont=dict(family=FONT, size=13, color="#4D4D4D"),
                       showgrid=True, gridcolor="#E6E6E6", gridwidth=1, zeroline=False)
    layout["xaxis" + n] = dict(axis_common, domain=[l / W, r / W], range=p["xr"], anchor=ya,
                               tick0=5, dtick=1,
                               minor=dict(dtick=0.5, showgrid=True, gridcolor="#F2F2F2", gridwidth=1))
    layout["yaxis" + n] = dict(axis_common, domain=[1 - b / H, 1 - t / H], range=p["yr"], anchor=xa,
                               tick0=0, dtick=p["ydt"],
                               minor=dict(dtick=p["ydt"] / 2, showgrid=True, gridcolor="#F2F2F2", gridwidth=1))
    for pts, fit, pc, lc in p["groups"]:
        fig.add_trace(go.Scatter(x=[q[0] for q in pts], y=[q[1] for q in pts], mode="markers",
                                 marker=dict(size=7, color=pc, line=dict(width=0)),
                                 xaxis=xa, yaxis=ya, showlegend=False, hoverinfo="skip"))
    for pts, fit, pc, lc in p["groups"]:
        fig.add_trace(go.Scatter(x=[q[0] for q in fit], y=[q[1] for q in fit], mode="lines",
                                 line=dict(color=lc, width=2.6, shape="spline"),
                                 xaxis=xa, yaxis=ya, showlegend=False, hoverinfo="skip"))
    lx, ly = p["letter"]
    annotations.append(dict(text="<b>%s</b>" % p["key"], x=lx / W, y=1 - ly / H,
                            xref="paper", yref="paper", xanchor="left", yanchor="middle", showarrow=False,
                            font=dict(family=FONT, size=21, color="black")))
    annotations.append(dict(text=X_TITLE, x=(l + r) / 2 / W, y=1 - (b + 32) / H, xref="paper", yref="paper",
                            xanchor="center", yanchor="middle", showarrow=False,
                            font=dict(family=FONT, size=16, color="black")))
    annotations.append(dict(text=p["ytitle"], x=p["ytx"] / W, y=1 - (t + b) / 2 / H, xref="paper", yref="paper",
                            xanchor="center", yanchor="middle", textangle=-90, showarrow=False,
                            font=dict(family=FONT, size=16, color="black")))

# legend entries
for name, c, lg in [("Adults", ADULT_LN, "legend"), ("Youth", YOUTH_LN, "legend"),
                    ("Diabetes", DIAB_LN, "legend2"), ("IGT", IGT_LN, "legend2")]:
    fig.add_trace(go.Scatter(x=[None], y=[None], mode="lines+markers", name=name, legend=lg,
                             line=dict(color=c, width=2.6), marker=dict(color=c, size=6)))

legend_common = dict(orientation="h", bgcolor="white", borderwidth=0, xanchor="right", yanchor="middle",
                     font=dict(family=FONT, size=14, color="black"), itemwidth=30, tracegroupgap=0)

fig.update_layout(
    width=W, height=H, margin=dict(l=0, r=0, t=0, b=0),
    paper_bgcolor="white", plot_bgcolor="white",
    font=dict(family=FONT),
    legend=dict(legend_common, x=383 / W, y=1 - 53 / H),
    legend2=dict(legend_common, x=785 / W, y=1 - 774 / H),
    annotations=annotations,
    **layout,
)

# the page body has a default 8px margin; drop it so the figure sits at the page origin
fig.write_html("out.html", config={"displayModeBar": False},
               post_script="document.body.style.margin='0';")
